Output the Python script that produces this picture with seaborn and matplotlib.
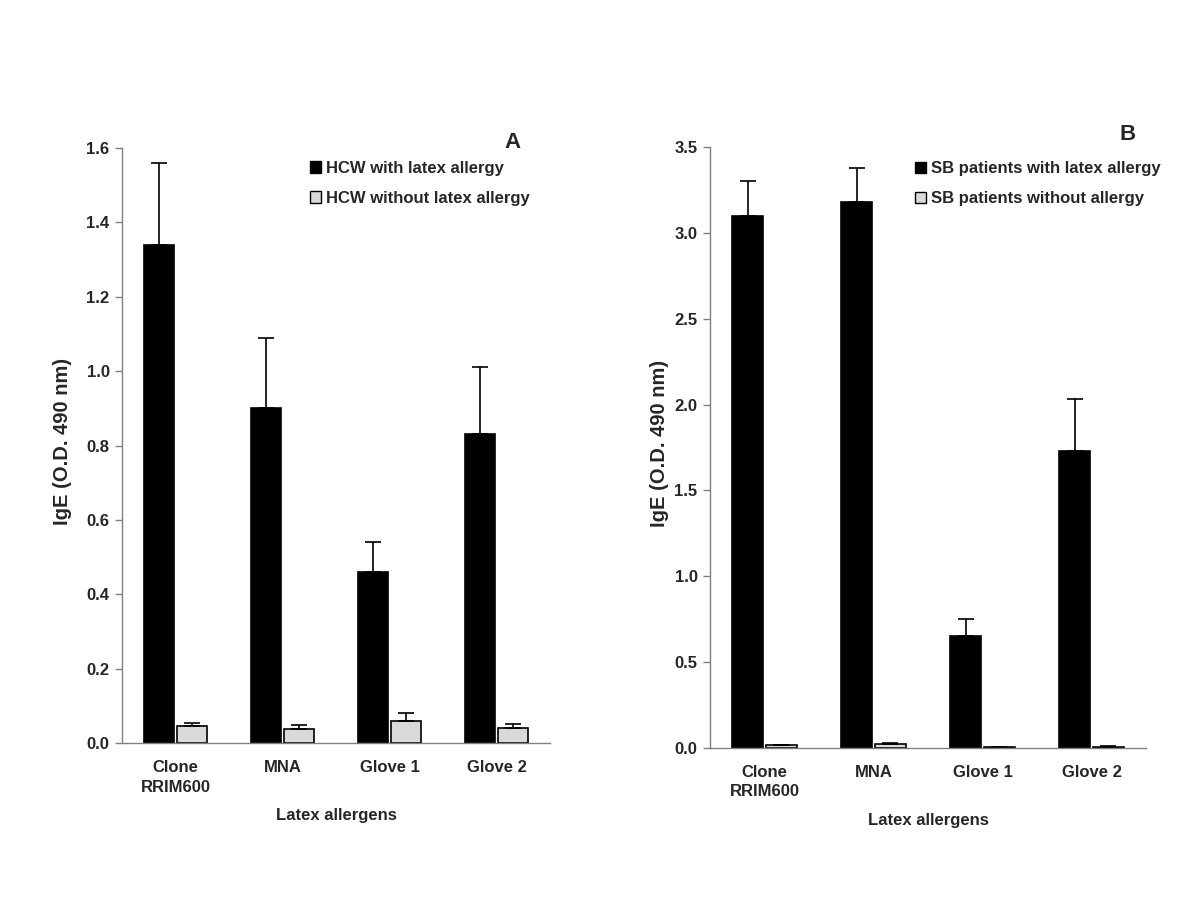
import numpy as np
import pandas as pd
import matplotlib
matplotlib.use("Agg")
import matplotlib.pyplot as plt
import seaborn as sns

categories = ["Clone\nRRIM600", "MNA", "Glove 1", "Glove 2"]

# panel A
hcw_with = [1.34, 0.90, 0.46, 0.83]
hcw_with_err = [0.22, 0.19, 0.08, 0.18]
hcw_without = [0.045, 0.037, 0.060, 0.041]
hcw_without_err = [0.010, 0.011, 0.020, 0.011]

# panel B
sb_with = [3.10, 3.18, 0.65, 1.73]
sb_with_err = [0.20, 0.20, 0.10, 0.30]
sb_without = [0.015, 0.025, 0.003, 0.007]
sb_without_err = [0.004, 0.004, 0.001, 0.002]

sns.set_theme(style="white")
plt.rcParams["font.family"] = ["Liberation Sans", "DejaVu Sans"]
plt.rcParams["font.weight"] = "bold"

fig = plt.figure(figsize=(12, 9), dpi=100)
axA = fig.add_axes([0.1017, 0.1744, 0.3566, 0.6612])
axB = fig.add_axes([0.5917, 0.1689, 0.3633, 0.6678])


def draw_panel(ax, v1, e1, v2, e2, names, ymax, step, letter, leg_xy, letter_xy, ylab_x):
    df = pd.DataFrame({
        "cat": categories * 2,
        "val": v1 + v2,
        "grp": [names[0]] * 4 + [names[1]] * 4,
    })
    sns.barplot(data=df, x="cat", y="val", hue="grp", ax=ax,
                palette=["black", "#d9d9d9"], width=0.62, gap=0.1,
                edgecolor="black", linewidth=1.2, legend=False)
    bars = ax.patches
    for vals, errs, patches in [(v1, e1, bars[:4]), (v2, e2, bars[4:8])]:
        xs = [p.get_x() + p.get_width() / 2 for p in patches]
        ax.errorbar(xs, vals, yerr=[np.zeros(4), errs], fmt="none",
                    ecolor="black", elinewidth=1.2, capsize=6, capthick=1.2)

    ax.set_xlim(-0.5, 3.5)
    ax.set_ylim(0, ymax)
    ticks = np.arange(0, ymax + step / 2, step)
    ax.set_yticks(ticks)
    ax.set_yticklabels([f"{t:.1f}" for t in ticks], fontsize=12, fontweight="bold")
    ax.set_xticks(range(4))
    ax.set_xticklabels(categories, fontsize=12, fontweight="bold", linespacing=1.4)
    ax.set_xticks(np.arange(-0.5, 4, 1), minor=True)
    ax.tick_params(axis="x", which="major", length=0, pad=12)
    ax.tick_params(axis="x", which="minor", length=6, color="#808080", direction="out", width=1)
    ax.tick_params(axis="y", length=5, color="#808080", direction="out", width=1, left=True, pad=4)
    for s in ["top", "right"]:
        ax.spines[s].set_visible(False)
    for s in ["left", "bottom"]:
        ax.spines[s].set_color("#808080")
        ax.spines[s].set_linewidth(1)
    ax.set_xlabel("Latex allergens", fontsize=12, fontweight="bold", labelpad=10)
    ax.set_ylabel("IgE (O.D. 490 nm)", fontsize=14.5, fontweight="bold")
    ax.yaxis.set_label_coords(ylab_x, 0.507)

    handles = [
        plt.Rectangle((0, 0), 1, 1, facecolor="black", edgecolor="black"),
        plt.Rectangle((0, 0), 1, 1, facecolor="#d9d9d9", edgecolor="black"),
    ]
    ax.legend(handles, names, loc="upper left", bbox_to_anchor=leg_xy,
              frameon=False, prop={"size": 12, "weight": "bold"},
              handlelength=0.7, handleheight=0.7, handletextpad=0.3,
              labelspacing=0.9, borderaxespad=0)
    ax.text(letter_xy[0], letter_xy[1], letter, transform=ax.transAxes,
            fontsize=16, fontweight="bold", ha="center", va="center")


draw_panel(axA, hcw_with, hcw_with_err, hcw_without, hcw_without_err,
           ["HCW with latex allergy", "HCW without latex allergy"],
           1.6, 0.2, "A", (0.423, 0.99), (0.912, 1.01), -0.117)
draw_panel(axB, sb_with, sb_with_err, sb_without, sb_without_err,
           ["SB patients with latex allergy", "SB patients without allergy"],
           3.5, 0.5, "B", (0.454, 0.987), (0.957, 1.02), -0.094)

fig.savefig("out.png", dpi=100)
